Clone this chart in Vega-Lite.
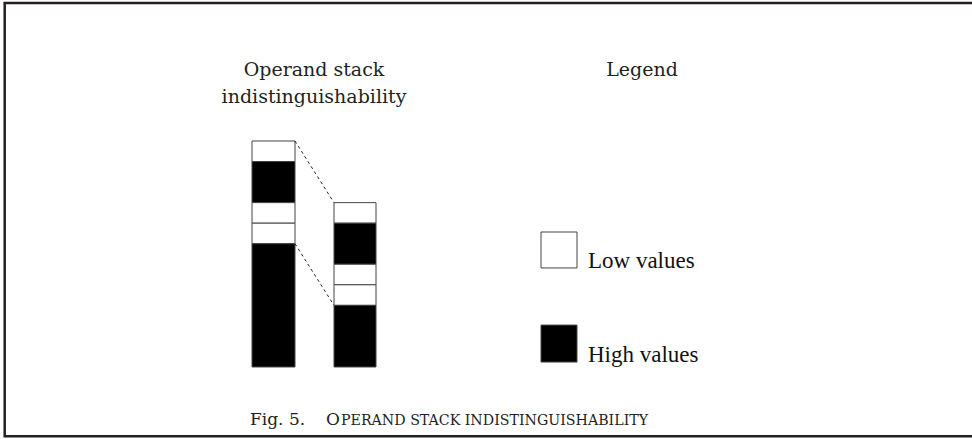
{
  "$schema": "https://vega.github.io/schema/vega-lite/v6.json",
  "width": 972,
  "height": 439,
  "autosize": {"type": "fit", "contains": "padding"},
  "padding": 0,
  "background": "white",
  "config": {"view": {"stroke": null}},
  "encoding": {
    "x": {"field": "x", "type": "quantitative", "scale": {"domain": [0, 972], "nice": false, "zero": false}, "axis": null},
    "y": {"field": "y", "type": "quantitative", "scale": {"domain": [-3.505, 17.863], "nice": false, "zero": false}, "axis": null}
  },
  "layer": [
    {
      "data": {"values": [
        {"part": "frame", "x": 4.7, "x2": 1000, "y": 17.72, "y2": -3.37}
      ]},
      "mark": {"type": "rect", "filled": false, "stroke": "#231f20", "strokeWidth": 2.5, "clip": true},
      "encoding": {"x2": {"field": "x2"}, "y2": {"field": "y2"}}
    },
    {
      "data": {"values": [
        {"stack": "before", "x": 252, "x2": 295, "y": 10, "y2": 11, "kind": "Low"},
        {"stack": "before", "x": 252, "x2": 295, "y": 8, "y2": 10, "kind": "High"},
        {"stack": "before", "x": 252, "x2": 295, "y": 7, "y2": 8, "kind": "Low"},
        {"stack": "before", "x": 252, "x2": 295, "y": 6, "y2": 7, "kind": "Low"},
        {"stack": "before", "x": 252, "x2": 295, "y": 0, "y2": 6, "kind": "High"},
        {"stack": "after", "x": 334, "x2": 376, "y": 7, "y2": 8, "kind": "Low"},
        {"stack": "after", "x": 334, "x2": 376, "y": 5, "y2": 7, "kind": "High"},
        {"stack": "after", "x": 334, "x2": 376, "y": 4, "y2": 5, "kind": "Low"},
        {"stack": "after", "x": 334, "x2": 376, "y": 3, "y2": 4, "kind": "Low"},
        {"stack": "after", "x": 334, "x2": 376, "y": 0, "y2": 3, "kind": "High"},
        {"stack": "legend", "x": 541, "x2": 577, "y": 4.82, "y2": 6.57, "kind": "Low"},
        {"stack": "legend", "x": 541, "x2": 577, "y": 0.24, "y2": 2.04, "kind": "High"}
      ]},
      "mark": {"type": "rect", "stroke": "#444444", "strokeWidth": 1},
      "encoding": {
        "x2": {"field": "x2"},
        "y2": {"field": "y2"},
        "fill": {"field": "kind", "type": "nominal", "scale": {"domain": ["Low", "High"], "range": ["#ffffff", "#000000"]}, "legend": null}
      }
    },
    {
      "data": {"values": [
        {"x": 295, "x2": 334, "y": 11, "y2": 8},
        {"x": 295, "x2": 334, "y": 6, "y2": 3}
      ]},
      "mark": {"type": "rule", "color": "#222222", "strokeWidth": 1, "strokeDash": [3, 3]},
      "encoding": {"x2": {"field": "x2"}, "y2": {"field": "y2"}}
    },
    {
      "data": {"values": [
        {"label": "Operand stack", "x": 314, "y": 14.16},
        {"label": "indistinguishability", "x": 314, "y": 12.86},
        {"label": "Legend", "x": 642, "y": 14.16}
      ]},
      "mark": {"type": "text", "font": "DejaVu Serif", "fontSize": 19, "color": "#231f20", "align": "center", "baseline": "alphabetic"},
      "encoding": {"text": {"field": "label"}}
    },
    {
      "data": {"values": [
        {"label": "Low values", "x": 588, "y": 4.82},
        {"label": "High values", "x": 588, "y": 0.24}
      ]},
      "mark": {"type": "text", "font": "Liberation Serif", "fontSize": 23, "color": "#111111", "align": "left", "baseline": "alphabetic"},
      "encoding": {"text": {"field": "label"}}
    },
    {
      "data": {"values": [
        {"label": "Fig. 5.", "x": 250, "y": -2.823},
        {"label": "O", "x": 326, "y": -2.823}
      ]},
      "mark": {"type": "text", "font": "DejaVu Serif", "fontSize": 17, "color": "#231f20", "align": "left", "baseline": "alphabetic"},
      "encoding": {"text": {"field": "label"}}
    },
    {
      "data": {"values": [
        {"label": "PERAND STACK INDISTINGUISHABILITY", "x": 341, "y": -2.823}
      ]},
      "mark": {"type": "text", "font": "DejaVu Serif", "fontSize": 14.2, "color": "#231f20", "align": "left", "baseline": "alphabetic"},
      "encoding": {"text": {"field": "label"}}
    }
  ]
}
